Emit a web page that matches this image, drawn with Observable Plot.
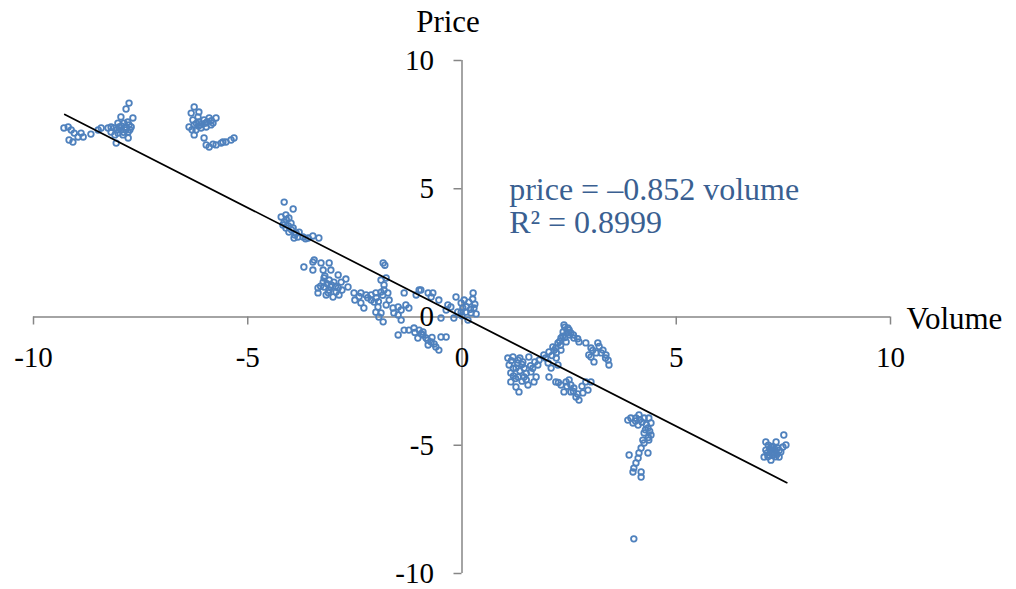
<!DOCTYPE html>
<html>
<head>
<meta charset="utf-8">
<script src="https://cdn.jsdelivr.net/npm/d3@7"></script>
<script src="https://cdn.jsdelivr.net/npm/@observablehq/plot@0.6"></script>
<style>
  html, body { margin: 0; padding: 0; background: #ffffff; }
  #chart svg { display: block; }
</style>
</head>
<body>
<div id="chart"></div>
<script>
const volume = [
  -9.29,-9.19,-9.12,-9.05,-9.17,-9.08,-8.96,-8.84,-8.89,-8.66,-8.49,-8.42,-8.26,-8.19,
  -7.77,-7.84,-7.96,-7.68,-8.03,-7.89,-7.77,-8.12,-7.96,-7.84,-8.03,-7.91,-7.79,-8.07,-7.79,-7.72,-8.19,-8.00,
  -7.95,-7.85,-7.90,-8.05,-7.80,-7.75,-8.10,
  -6.25,-6.32,-6.14,-6.37,-6.25,-6.14,-6.02,-5.90,-5.74,-5.86,-5.97,-6.25,-6.21,-6.09,-6.28,-6.16,-5.81,
  -6.20,-6.10,-6.00,-5.95,-6.30,-6.15,-5.85,
  -6.02,-5.97,-5.90,-5.74,-5.62,-5.51,-5.39,-5.32,-5.81,-5.58,
  -4.15,-3.94,-4.22,-4.11,-4.04,-4.15,-3.99,-4.11,-3.94,-4.04,-3.87,-3.83,-3.71,-3.59,-3.48,-3.34,-3.92,-4.18,-3.80,
  -4.05,-3.98,-4.10,-3.90,-3.65,
  -3.69,-3.48,-3.45,-3.29,-3.10,-3.48,-3.24,-3.06,-2.89,-3.22,-3.10,-2.99,-2.82,-2.71,-3.36,-3.22,-3.06,-2.89,-2.66,-3.36,-3.17,-3.01,-2.87,-3.10,-2.94,-3.24,
  -3.15,-3.05,-2.95,-3.30,-3.12,-2.80,-3.20,
  -2.52,-2.36,-2.24,-2.12,-2.50,-2.29,-2.01,-1.89,-1.82,-1.73,-1.84,-1.89,-1.82,-2.05,-1.96,-2.01,-1.94,-1.84,-1.89,-1.77,-1.70,-2.12,-2.36,-1.77,-1.80,
  -2.40,-2.20,-2.00,-1.95,-1.85,
  -1.61,-1.49,-1.42,-1.31,-1.24,-1.35,-1.07,-0.96,-0.79,-0.68,-1.59,-1.42,-1.49,
  -1.49,-1.35,-1.24,-1.12,-1.00,-0.91,-0.84,-0.72,-0.61,-0.49,-0.37,-0.54,-0.79,-1.03,-0.91,
  -1.10,-0.95,-0.80,-0.65,-0.70,
  -0.26,-0.14,-0.02,0.05,0.16,0.26,0.28,0.09,0.21,0.14,-0.02,-0.37,-0.49,-0.19,-1.00,-0.72,-0.54,-0.33,0.33,0.02,
  0.10,0.20,0.00,0.30,-0.10,0.25,
  1.07,1.19,1.31,1.42,1.56,1.10,1.26,1.45,1.14,1.31,1.45,1.14,1.26,1.33,1.54,1.68,1.73,1.61,1.77,1.80,
  1.20,1.35,1.50,1.40,1.25,1.60,
  1.15,1.30,1.40,1.50,1.20,1.35,1.65,1.70,
  1.91,2.03,2.12,2.24,2.19,2.31,2.36,2.38,2.47,2.54,2.61,2.73,2.89,2.31,2.43,2.01,2.08,2.24,
  2.20,2.30,2.40,2.50,
  1.95,2.10,2.15,2.28,2.35,2.45,2.50,2.40,2.60,2.70,2.20,
  3.01,3.17,3.13,3.29,3.36,3.41,3.43,3.01,3.08,2.96,
  3.05,3.20,3.25,3.35,
  2.03,2.19,2.31,2.43,2.54,2.54,2.66,2.73,2.82,2.94,3.01,2.89,2.61,2.38,
  2.25,2.45,2.60,2.70,2.80,2.50,
  3.87,3.94,4.06,4.13,4.25,4.36,4.41,4.34,4.41,4.36,4.25,4.11,4.22,3.99,
  4.20,4.30,4.15,4.28,4.38,4.05,4.35,
  4.18,4.13,4.11,4.06,4.01,3.99,3.90,4.18,4.18,4.34,4.25,4.01,
  7.09,7.21,7.09,7.16,7.28,7.37,7.40,7.44,7.51,7.56,7.49,7.21,7.05,7.33,
  7.20,7.30,7.15,7.25,7.35,
  7.12,7.18,7.26,7.32,7.40,7.24,7.14
];
const price = [
  7.37,7.41,7.29,7.17,6.90,6.82,7.02,7.02,7.17,7.13,7.29,7.37,7.37,7.41,
  8.34,8.11,7.80,7.76,7.56,7.56,7.49,7.37,7.29,7.29,7.17,7.10,7.21,6.78,6.98,7.41,7.21,7.41,
  7.45,7.40,7.20,7.30,7.60,7.30,7.10,
  8.19,7.95,7.99,7.41,7.49,7.60,7.68,7.76,7.76,7.49,7.41,7.10,7.29,7.37,7.68,7.80,7.56,
  7.55,7.50,7.55,7.60,7.30,7.45,7.65,
  6.98,6.71,6.63,6.71,6.78,6.82,6.90,6.98,6.74,6.82,
  4.48,4.21,3.90,3.98,3.86,3.70,3.66,3.47,3.47,3.31,3.27,3.12,3.12,3.08,3.16,3.08,3.08,3.59,3.31,
  3.55,3.40,3.80,3.20,3.05,
  1.95,2.14,2.22,2.11,2.11,1.83,1.83,1.83,1.64,1.52,1.44,1.36,1.36,1.48,1.13,1.17,1.17,1.13,1.17,0.94,0.86,0.78,0.86,1.05,0.97,1.36,
  1.30,1.25,1.20,1.20,0.95,1.05,1.60,
  0.94,0.94,0.86,0.86,0.66,0.35,0.94,0.97,1.05,0.94,2.11,1.44,1.25,0.58,0.39,0.19,0.00,-0.19,0.16,0.47,0.66,0.66,0.55,1.52,2.02,
  0.80,0.75,0.75,0.60,0.85,
  0.35,0.39,0.27,0.47,0.35,0.94,0.86,1.05,0.94,0.94,0.16,-0.12,0.08,
  -0.70,-0.51,-0.51,-0.43,-0.51,-0.70,-0.82,-0.97,-1.17,-0.78,-0.78,-1.29,-1.09,-0.82,-0.58,
  -0.60,-0.65,-0.90,-1.05,-0.80,
  0.39,0.78,0.55,0.66,0.58,0.94,0.35,0.19,0.16,-0.12,0.19,0.27,-0.04,-0.04,1.05,0.78,0.66,0.47,0.12,0.35,
  0.40,0.30,0.05,0.50,0.20,0.70,
  -1.60,-1.56,-1.68,-1.75,-1.56,-1.87,-1.99,-1.99,-2.18,-2.34,-2.34,-2.53,-2.73,-2.92,-2.65,-2.53,-2.34,-2.14,-1.87,-1.68,
  -2.00,-2.10,-2.20,-1.85,-2.40,-1.90,
  -1.70,-1.80,-2.50,-2.45,-2.30,-1.60,-2.00,-1.75,
  -1.48,-1.36,-1.17,-1.01,-1.21,-0.82,-0.58,-0.31,-0.43,-0.62,-0.82,-0.97,-1.01,-1.29,-0.97,-1.79,-1.99,-1.87,
  -1.40,-1.10,-0.80,-0.70,
  -1.60,-1.50,-1.30,-0.95,-0.75,-0.60,-0.50,-0.40,-0.70,-0.85,-1.60,
  -1.21,-1.01,-1.40,-1.29,-1.48,-1.68,-1.87,-1.56,-1.75,-1.48,
  -1.30,-1.15,-1.40,-1.60,
  -2.34,-2.53,-2.65,-2.53,-2.65,-2.92,-3.12,-3.24,-2.96,-2.85,-2.53,-2.53,-2.77,-2.92,
  -2.55,-2.70,-2.90,-3.00,-2.70,-2.45,
  -4.02,-3.94,-3.94,-3.82,-3.94,-3.94,-4.13,-4.33,-4.60,-4.80,-4.52,-4.21,-4.80,-4.13,
  -4.10,-4.20,-4.00,-4.40,-4.45,-4.05,-4.70,
  -5.11,-5.30,-5.50,-5.69,-5.89,-6.04,-5.38,-6.04,-6.24,-5.30,-4.91,-8.65,
  -4.87,-5.07,-5.19,-5.38,-5.30,-5.11,-5.46,-5.26,-4.60,-4.99,-5.07,-5.58,-5.46,-4.87,
  -5.20,-5.15,-5.00,-5.40,-5.35,
  -5.30,-5.15,-5.25,-5.45,-5.20,-5.05,-5.45
];

// Trendline (through origin) and its label
const slope = -0.852;
const rSquared = 0.8999;
const trendRange = [-9.27, 7.58];

// Axes
const xTicks = [-10, -5, 0, 5, 10];
const xTickLabels = ["-10", "-5", "0", "5", "10"];
const yTicks = [-10, -5, 0, 5, 10];
const yTickLabels = ["-10", "-5", "0", "5", "10"];
const xTitle = "Volume";
const yTitle = "Price";
const equationLine1 = "price = \u20130.852 volume";
const equationLine2 = "R\u00B2 = 0.8999";

const points = volume.map((v, i) => ({volume: v, price: price[i]}));
const trend = trendRange.map(v => ({volume: v, price: slope * v}));

const W = 1016, H = 589;
const mL = 33, mR = 126, mT = 60, mB = 16;
const pxPerX = (W - mL - mR) / 20;
const pxPerY = (H - mT - mB) / 20;
const tickLenX = 8 / pxPerY; // data units for vertical ticks
const tickLenY = 8 / pxPerX; // data units for horizontal ticks

const axisColor = "#868686";
const pointColor = "#4F81BD";
const labelColor = "#3A5F91";
const font = "Liberation Serif, Times New Roman, serif";

const chart = Plot.plot({
  width: W,
  height: H,
  marginLeft: mL,
  marginRight: mR,
  marginTop: mT,
  marginBottom: mB,
  style: {fontFamily: font, fontSize: "29px", color: "#000", background: "#fff", overflow: "visible"},
  x: {domain: [-10, 10], axis: null},
  y: {domain: [-10, 10], axis: null},
  marks: [
    Plot.ruleY([0], {x1: -10, x2: 10, stroke: axisColor, strokeWidth: 1.5}),
    Plot.ruleX([0], {y1: -10, y2: 10, stroke: axisColor, strokeWidth: 1.5}),
    Plot.ruleX(xTicks, {x: d => d, y1: 0, y2: -tickLenX, stroke: axisColor, strokeWidth: 1.5}),
    Plot.ruleY(yTicks, {y: d => d, x1: 0, x2: -tickLenY, stroke: axisColor, strokeWidth: 1.5}),
    Plot.text(xTicks, {x: d => d, y: 0, dy: 41, text: (d, i) => xTickLabels[i], fontSize: 29, fill: "#000"}),
    Plot.text(yTicks, {x: 0, y: d => d, dx: -28, textAnchor: "end", text: (d, i) => yTickLabels[i], fontSize: 29, fill: "#000"}),
    Plot.text([yTitle], {x: 0, y: 10, dx: -14, dy: -38, text: d => d, fontSize: 31, fill: "#000"}),
    Plot.text([xTitle], {x: 10, y: 0, dx: 16, dy: 2, textAnchor: "start", text: d => d, fontSize: 31, fill: "#000"}),
    Plot.dot(points, {x: "volume", y: "price", r: 2.8, stroke: pointColor, strokeWidth: 1.8, fill: "none"}),
    Plot.line(trend, {x: "volume", y: "price", stroke: "#000", strokeWidth: 1.7}),
    Plot.text([equationLine1], {x: 1.1, y: 4.95, text: d => d, textAnchor: "start", fontSize: 32, fill: labelColor}),
    Plot.text([equationLine2], {x: 1.1, y: 4.95, dy: 33, text: d => d, textAnchor: "start", fontSize: 32, fill: labelColor}),
  ]
});

document.getElementById("chart").appendChild(chart);
</script>
</body>
</html>
